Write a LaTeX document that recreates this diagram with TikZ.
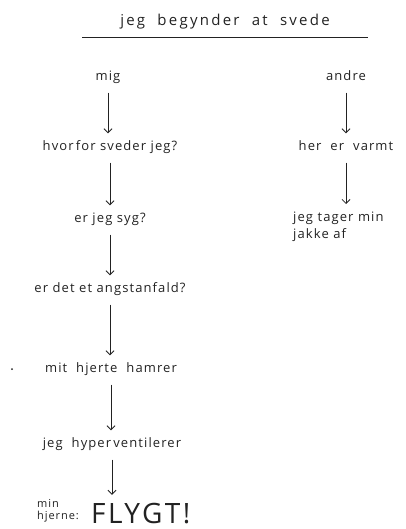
\documentclass[tikz,border=0pt]{standalone}
\usepackage{fontspec}
\setmainfont{Open Sans}
\newfontfamily\hand[LetterSpace=8.5]{Open Sans}
\newfontfamily\handwide[LetterSpace=15]{Open Sans}
\newfontfamily\handbig[LetterSpace=9]{Open Sans}
\usetikzlibrary{arrows.meta}
\definecolor{ink}{HTML}{222222}
\begin{document}
\begin{tikzpicture}[x=1pt,y=-1pt,
  txt/.style={font=\hand\fontsize{13}{17}\selectfont, text=ink, inner xsep=0pt, inner ysep=9pt, text height=8pt, text depth=3pt},
  multi/.style={font=\hand\fontsize{13}{17}\selectfont, text=ink, inner xsep=0pt, align=left},
  arr/.style={draw=ink, line width=0.8pt, -{Straight Barb[length=4pt,width=8pt]}},
  rule/.style={draw=ink, line width=0.8pt}]
\useasboundingbox (0,0) rectangle (406,529);
% title
\node[txt, font=\handwide\fontsize{15}{17}\selectfont] (title) at (225,23) {jeg\ \ begynder\ \ at\ \ svede};
\coordinate (ul) at (82,37);
\coordinate (ur) at (368,37);
\draw[rule] (ul) -- (ur);
% left column
\node[txt] (mig) at (108,78) {mig};
\node[txt] (hvor) at (110,148) {hvor\,for sveder jeg?};
\node[txt] (syg) at (110,220) {er\ jeg\ syg?};
\node[txt] (angst) at (110,290) {er det et angstanfald?};
\node[txt] (hjerte) at (111,370) {mit\ \ hjerte\ \ hamrer};
\node[txt] (hyp) at (112,445) {jeg\ \ hyper\,ventilerer};
\node[txt, font=\handbig\fontsize{28}{30}\selectfont, inner ysep=8pt, text height=20pt, text depth=0pt, anchor=base west] (flygt) at (91,523) {FLYGT!};
\node[multi, font=\hand\fontsize{11}{12}\selectfont, inner ysep=0pt, anchor=north west] (hjerne) at (37,499) {min\\hjerne:};
\draw[arr] (mig.south) -- (mig.south |- hvor.north);
\draw[arr] (hvor.south) -- (hvor.south |- syg.north);
\draw[arr] (syg.south) -- (syg.south |- angst.north);
\draw[arr] (angst.south) -- (angst.south |- hjerte.north);
\draw[arr] (hjerte.south) -- (hjerte.south |- hyp.north);
\draw[arr] (hyp.south) -- (hyp.south |- flygt.north);
% right column
\node[txt] (andre) at (346,78) {andre};
\node[txt] (varmt) at (346,148) {her\ \ er\ \ varmt};
\node[multi, anchor=north west, inner ysep=8pt] (jakke) at (293,204) {jeg\ tager\ min\\jakke af};
\draw[arr] (andre.south) -- (andre.south |- varmt.north);
\draw[arr] (varmt.south) -- (varmt.south |- jakke.north);
% stray dot
\fill[ink] (12,369) circle (1pt);
\end{tikzpicture}
\end{document}
